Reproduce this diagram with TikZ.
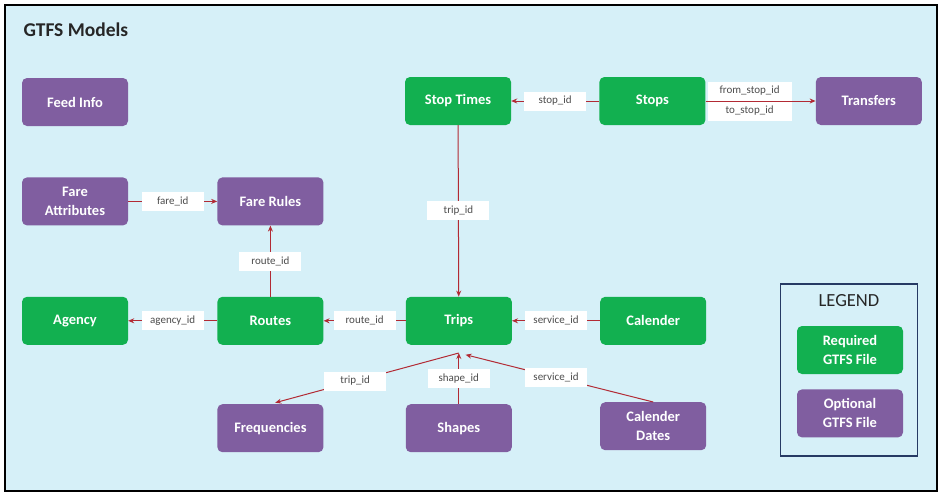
\documentclass[tikz,border=0pt]{standalone}
\usepackage{fontspec}
\setmainfont{Carlito}
\usetikzlibrary{positioning,arrows.meta}
\definecolor{reqgreen}{RGB}{18,176,80}
\definecolor{optpurple}{RGB}{128,94,160}
\definecolor{bgcyan}{RGB}{214,240,248}
\definecolor{linkred}{RGB}{178,42,52}
\definecolor{legendblue}{RGB}{38,58,100}
\begin{document}
\begin{tikzpicture}[x=1pt,y=-1pt,
	box/.style={rounded corners=5pt, minimum width=106pt, minimum height=48pt, inner sep=2pt, align=center, text=white, font=\bfseries\fontsize{14.5}{19}\selectfont},
	req/.style={box, fill=reqgreen},
	opt/.style={box, fill=optpurple},
	key/.style={fill=white, text=black!70, inner sep=2pt, minimum width=62pt, minimum height=19pt, font=\fontsize{11}{12}\selectfont},
	link/.style={draw=linkred, line width=1pt, -{Stealth[length=6pt,width=5pt]}}]
					\fill[white] (0,0) rectangle (945,501);
					\useasboundingbox (0,0) rectangle (945,501);
					\draw[fill=bgcyan, line width=1.5pt] (5,5) rectangle (937,491);
					\node[anchor=west, text=black!85, font=\bfseries\fontsize{19.5}{21}\selectfont] (title) at (20,30) {GTFS Models};
					
					\node[opt] (feed) at (75,102) {Feed Info};
					\node[opt, below=51pt of feed] (fattr) {Fare\\Attributes};
					\node[req, below=71pt of fattr] (agency) {Agency};
					\node[opt, right=89pt of fattr] (frules) {Fare Rules};
					\node[req, right=89pt of agency] (routes) {Routes};
					\node[req, right=82pt of routes] (trips) {Trips};
					\node[req, right=88pt of trips] (calendar) {Calender};
					\node[req] (stoptimes) at (458,101) {Stop Times};
					\node[req, right=88pt of stoptimes] (stops) {Stops};
					\node[opt, right=110pt of stops] (transfers) {Transfers};
					\node[opt, below=59pt of routes] (freq) {Frequencies};
					\node[opt, below=59pt of trips] (shapes) {Shapes};
					\node[opt, below=57pt of calendar] (caldates) {Calender\\Dates};
					\coordinate (hub) at ([yshift=-8pt]trips.south);
					
					\node[draw=legendblue, line width=1.5pt, minimum width=137pt, minimum height=172pt] (legend) at (849,370) {};
					\node[below=8pt of legend.north, font=\fontsize{18.5}{20}\selectfont, text=black!85] (legendtitle) {LEGEND};
					\node[req] (reqkey) at (850,350) {Required\\GTFS File};
					\node[opt, below=15pt of reqkey] (optkey) {Optional\\GTFS File};
					
					\draw[link] (fattr) -- node[key] {fare\_id} (frules);
					\draw[link] (routes) -- node[key] {route\_id} (frules);
					\draw[link] (routes) -- node[key] {agency\_id} (agency);
					\draw[link] (trips) -- node[key] {route\_id} (routes);
					\draw[link] (calendar) -- node[key] {service\_id} (trips);
					\draw[link] (stops) -- node[key] {stop\_id} (stoptimes);
					\draw[link] (stops) -- node[key, minimum width=84pt, pos=0.4, above=0pt] {from\_stop\_id} node[key, minimum width=84pt, pos=0.4, below=0pt] {to\_stop\_id} (transfers);
					\draw[link] (stoptimes) -- node[key] {trip\_id} (trips);
					
					\draw[link, shorten >=5pt] (hub) -- node[key, pos=0.55] {trip\_id} (freq.north);
					\draw[link] (shapes) -- node[key] {shape\_id} (hub);
					\draw[link, shorten >=7pt] (caldates.north) -- node[key] {service\_id} (hub);
				\end{tikzpicture}
\end{document}
